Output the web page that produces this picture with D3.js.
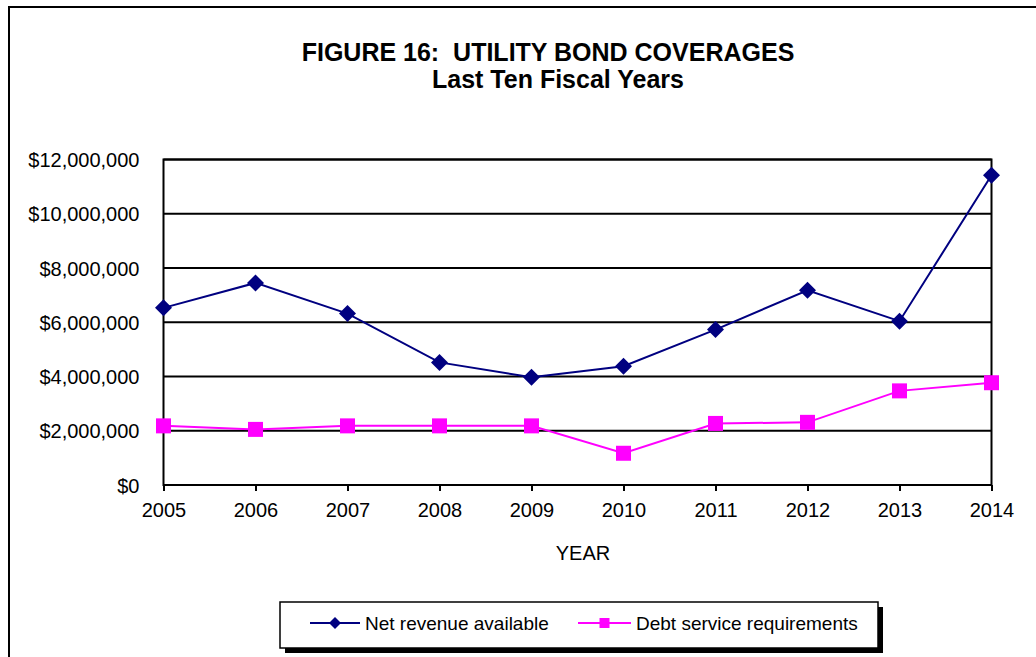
<!DOCTYPE html>
<html>
<head>
<meta charset="utf-8">
<script src="https://cdn.jsdelivr.net/npm/d3@7"></script>
<style>
  html, body { margin: 0; padding: 0; background: #fff; }
  svg { display: block; font-family: "Liberation Sans", Arial, sans-serif; }
</style>
</head>
<body>
<svg id="chart" width="1036" height="657"></svg>
<script>
// Fiscal years shown on the category axis
const years = ["2005", "2006", "2007", "2008", "2009", "2010", "2011", "2012", "2013", "2014"];
// Net revenue available for debt service (dollars)
const netRevenue = [6530000, 7450000, 6320000, 4520000, 3970000, 4380000, 5730000, 7180000, 6040000, 11420000];
// Debt service requirements (dollars)
const debtService = [2180000, 2050000, 2180000, 2180000, 2180000, 1170000, 2270000, 2310000, 3470000, 3770000];
// Value axis ticks
const yTicks = [0, 2000000, 4000000, 6000000, 8000000, 10000000, 12000000];
const seriesNames = ["Net revenue available", "Debt service requirements"];

const svg = d3.select("#chart");
const W = 1036, H = 657;
const FONT = "Liberation Sans, Arial, sans-serif";

// outer frame (runs off the right and bottom edges)
svg.append("rect")
  .attr("x", 9).attr("y", 7).attr("width", W + 20).attr("height", H + 20)
  .attr("fill", "#fff").attr("stroke", "#000").attr("stroke-width", 2);

// titles
svg.append("text").attr("x", 548).attr("y", 61).attr("text-anchor", "middle")
  .attr("font-size", 25).attr("font-weight", "bold").attr("xml:space", "preserve")
  .text("FIGURE 16:  UTILITY BOND COVERAGES");
svg.append("text").attr("x", 558).attr("y", 88).attr("text-anchor", "middle")
  .attr("font-size", 25).attr("font-weight", "bold")
  .text("Last Ten Fiscal Years");

const plot = { left: 163.5, right: 991.5, top: 159.5, bottom: 485 };

const x = d3.scalePoint().domain(years).range([plot.left, plot.right]);
const y = d3.scaleLinear().domain([0, 12000000]).range([plot.bottom, plot.top]);

// gridlines
svg.append("g").selectAll("line").data(yTicks.filter(v => v > 0)).join("line")
  .attr("x1", plot.left).attr("x2", plot.right)
  .attr("y1", d => y(d)).attr("y2", d => y(d))
  .attr("stroke", "#000").attr("stroke-width", 2);

// plot border
svg.append("rect")
  .attr("x", plot.left).attr("y", plot.top)
  .attr("width", plot.right - plot.left).attr("height", plot.bottom - plot.top)
  .attr("fill", "none").attr("stroke", "#000").attr("stroke-width", 2);

// y axis labels
const fmt = v => "$" + d3.format(",")(v);
const yAxis = d3.axisLeft(y).tickValues(yTicks).tickFormat(fmt).tickSize(0).tickPadding(24);
const gy = svg.append("g").attr("transform", `translate(${plot.left},0)`).call(yAxis);
gy.select(".domain").remove();
gy.selectAll("text").attr("font-size", 20).attr("fill", "#000")
  .attr("font-family", FONT).attr("dy", "0.36em");

// x axis labels with tick marks below the axis
const xAxis = d3.axisBottom(x).tickSize(6).tickPadding(0);
const gx = svg.append("g").attr("transform", `translate(0,${plot.bottom})`).call(xAxis);
gx.select(".domain").remove();
gx.selectAll("line").attr("stroke", "#000").attr("stroke-width", 2);
gx.selectAll("text").attr("font-size", 20).attr("fill", "#000")
  .attr("font-family", FONT).attr("y", 32).attr("dy", null);

// axis title
svg.append("text").attr("x", 583).attr("y", 560).attr("text-anchor", "middle")
  .attr("font-size", 20).text("YEAR");

const navy = "#000080", magenta = "#ff00ff";
// diamond drawn as a square turned 45 degrees
const diamondPath = r => `M0,${-r}L${r},0L0,${r}L${-r},0Z`;
const squarePath = s => `M${-s / 2},${-s / 2}h${s}v${s}h${-s}Z`;

function drawSeries(values, color, markPath) {
  const pts = years.map((yr, i) => [x(yr), y(values[i])]);
  svg.append("path").datum(pts)
    .attr("d", d3.line())
    .attr("fill", "none").attr("stroke", color).attr("stroke-width", 2);
  svg.append("g").selectAll("path").data(pts).join("path")
    .attr("transform", d => `translate(${d[0]},${d[1]})`)
    .attr("d", markPath).attr("fill", color);
}
drawSeries(debtService, magenta, squarePath(15));
drawSeries(netRevenue, navy, diamondPath(8.5));

// legend with drop shadow
const lg = { x: 280, y: 602, w: 598, h: 46 };
svg.append("rect").attr("x", lg.x + 5).attr("y", lg.y + 5).attr("width", lg.w).attr("height", lg.h)
  .attr("fill", "#000");
svg.append("rect").attr("x", lg.x).attr("y", lg.y).attr("width", lg.w).attr("height", lg.h)
  .attr("fill", "#fff").attr("stroke", "#000").attr("stroke-width", 1.5);

const legendItems = [
  { name: seriesNames[0], color: navy, mark: diamondPath(6), x1: 310, x2: 360, tx: 365 },
  { name: seriesNames[1], color: magenta, mark: squarePath(10), x1: 578, x2: 631, tx: 636 }
];
const ly = 623;
legendItems.forEach(it => {
  svg.append("line").attr("x1", it.x1).attr("x2", it.x2).attr("y1", ly).attr("y2", ly)
    .attr("stroke", it.color).attr("stroke-width", 2);
  svg.append("path").attr("transform", `translate(${(it.x1 + it.x2) / 2},${ly})`)
    .attr("d", it.mark).attr("fill", it.color);
  svg.append("text").attr("x", it.tx).attr("y", ly + 7).attr("font-size", 19).text(it.name);
});
</script>
</body>
</html>
